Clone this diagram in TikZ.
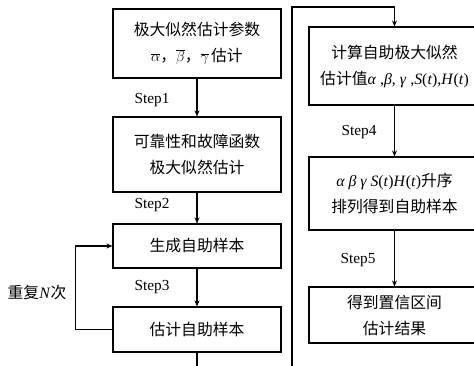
\documentclass[tikz,border=0pt]{standalone}
\usepackage{fontspec}
\setmainfont{Liberation Serif}
\newfontfamily\cjk{Noto Sans CJK SC}
\usetikzlibrary{arrows.meta}
\begin{document}
\begin{tikzpicture}[x=1pt,y=-1pt,
  box/.style={draw,line width=1.1pt,align=center,inner sep=0pt,
    font=\fontsize{15.8}{26}\selectfont},
  lbox/.style={box,minimum width=168pt},
  rbox/.style={box,minimum width=171pt},
  conn/.style={line width=1.1pt},
  arr/.style={conn,-{Stealth[length=6pt,width=5pt]}},
  steplab/.style={font=\fontsize{15.3}{18}\selectfont,inner sep=0pt}]
\useasboundingbox (0,0) rectangle (474,365);
\clip (0,0) rectangle (474,365);
% left column
\node[lbox,minimum height=69pt] (b1) at (197,43.5)
  {{\cjk 极大似然估计参数}\\$\overline{\alpha}${\cjk ，}$\overline{\beta}${\cjk ，}$\overline{\gamma}\,${\cjk 估计}};
\node[lbox,minimum height=75pt] (b2) at (197,154.5)
  {{\cjk 可靠性和故障函数}\\{\cjk 极大似然估计}};
\node[lbox,minimum height=44pt] (b3) at (197,246) {{\cjk 生成自助样本}};
\node[lbox,minimum height=45pt] (b4) at (197,329.5) {{\cjk 估计自助样本}};
% right column
\node[rbox,minimum height=78pt] (b5) at (394.5,66)
  {{\cjk 计算自助极大似然}\\{\cjk 估计值}\textit{α} ,\textit{β}, \textit{γ} ,\textit{S}(\textit{t}),\textit{H}(\textit{t})};
\node[rbox,minimum height=73pt] (b6) at (394.5,193.5)
  {\textit{α β γ S}(\textit{t})\textit{H}(\textit{t}){\cjk 升序}\\{\cjk 排列得到自助样本}};
\node[rbox,minimum height=56pt] (b7) at (394.5,315)
  {{\cjk 得到置信区间}\\{\cjk 估计结果}};
% step labels
\node[steplab] (s1) at (152,100) {Step1};
\node[steplab] (s2) at (152,205) {Step2};
\node[steplab] (s3) at (152,287) {Step3};
\node[steplab] (s4) at (359,132) {Step4};
\node[steplab] (s5) at (358,260) {Step5};
\node[inner sep=0pt,font=\fontsize{15.8}{18}\selectfont] (rep) at (37,293)
  {{\cjk 重复}\textit{N}{\cjk 次}};
% connectors
\draw[arr] (b1.south) -- (b2.north);
\draw[arr] (b2.south) -- (b3.north);
\draw[arr] (b3.south) -- (b4.north);
\draw[arr] (b4.west) -- ++(-37,0) |- (b3.west);
\coordinate (bot) at (197,370);
\draw[conn] (b4.south) -- (bot);
\coordinate (c1) at (292,370);
\coordinate (c2) at (292,7);
\draw[arr] (c1) -- (c2) -| (b5.north);
\draw[arr] (b5.south) -- (b6.north);
\draw[arr] (b6.south) -- (b7.north);
\end{tikzpicture}
\end{document}
